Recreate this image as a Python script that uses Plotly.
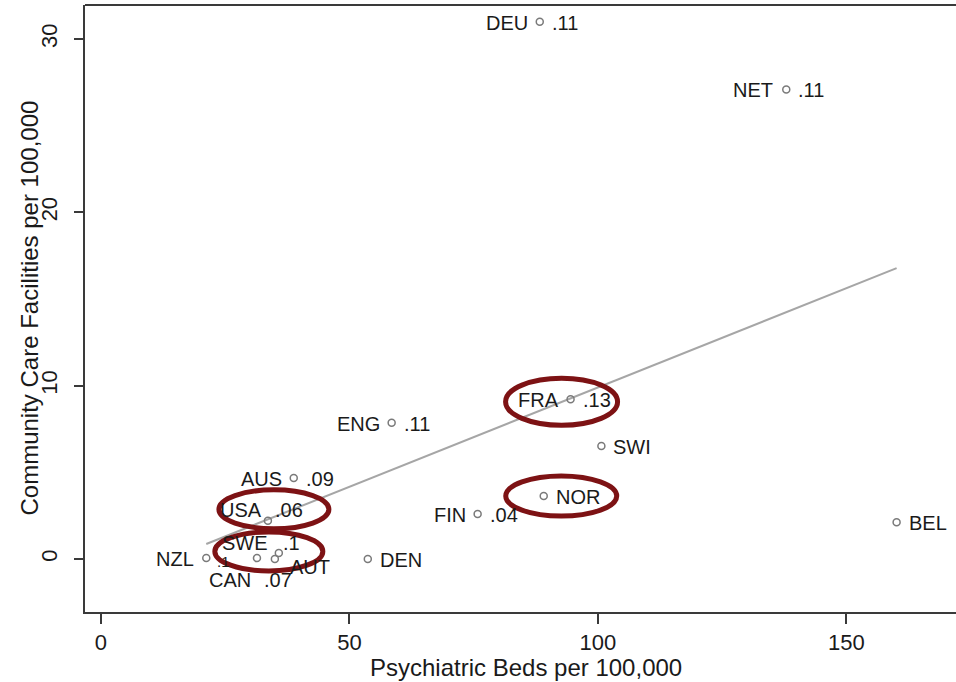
import numpy as np
import plotly.graph_objects as go

# Country codes, psychiatric beds and community care facilities (per 100,000)
countries = ["NZL", "CAN", "AUT", "SWE", "USA", "AUS", "DEN", "ENG",
             "FIN", "NOR", "FRA", "SWI", "DEU", "NET", "BEL"]
beds = [21.2, 31.4, 35.0, 35.8, 33.6, 38.8, 53.7, 58.5,
        75.8, 89.1, 94.5, 100.7, 88.3, 137.9, 160.1]
facilities = [0.05, 0.05, 0.0, 0.35, 2.2, 4.67, 0.0, 7.86,
              2.6, 3.63, 9.22, 6.52, 31.0, 27.1, 2.12]
value_labels = [".1", ".07", "", ".1", ".06", ".09", "", ".11",
                ".04", "", ".13", "", ".11", ".11", ""]
highlighted = ["FRA", "NOR", "USA", "SWE"]

x_ticks = [0, 50, 100, 150]
y_ticks = [0, 10, 20, 30]

FONT = "Liberation Sans, Arial, Helvetica, sans-serif"
TEXT = "#1a1a1a"
AXIS = "#3a3a3a"
LABEL_SIZE = 20

# label placement: (xshift, yshift) in pixels for name (left) and value (right)
default_name = (-11, -1)
default_value = (11, -1)
name_pos = {
    "CAN": (-5, -22), "SWE": (-10, 10), "USA": (-5, 11),
    "AUT": (14, -8), "NZL": (-11, -1), "NET": (-12, -1),
}
value_pos = {
    "CAN": (6, -22), "SWE": (3, 10), "USA": (6, 11), "NZL": (10, -3),
}
# smaller type where labels are packed tightly
value_size = {"NZL": 15}
# names written to the right of the marker
name_right = {"AUT", "DEN", "BEL", "SWI", "NOR"}
# ellipse boxes around highlighted markers, pixel offsets (x0, x1, y0, y1)
ellipse_box = {
    "FRA": (-65, 47, -26, 21),
    "NOR": (-38, 73, -20, 20),
    "USA": (-49, 61, -8, 31),
    "SWE": (-64, 44, -18, 21),
}

fig = go.Figure()

# least-squares fit line across the observed range
slope, intercept = np.polyfit(beds, facilities, 1)
fit_x = np.array([min(beds), max(beds)])
fig.add_trace(go.Scatter(
    x=fit_x, y=intercept + slope * fit_x, mode="lines",
    line=dict(color="#a6a6a6", width=2), hoverinfo="skip", showlegend=False,
))

fig.add_trace(go.Scatter(
    x=beds, y=facilities, mode="markers", text=countries,
    marker=dict(symbol="circle-open", size=7, color="#7a7a7a",
                line=dict(width=1.5, color="#7a7a7a")),
    showlegend=False,
))

annotations = []
for c, xv, yv, val in zip(countries, beds, facilities, value_labels):
    if c in name_right:
        dx, dy = name_pos.get(c, (11, -1))
        anchor = "left"
    else:
        dx, dy = name_pos.get(c, default_name)
        anchor = "right"
    annotations.append(dict(
        x=xv, y=yv, xref="x", yref="y", text=c, showarrow=False,
        xanchor=anchor, yanchor="middle", xshift=dx, yshift=dy, borderpad=0,
        font=dict(family=FONT, size=LABEL_SIZE, color=TEXT),
    ))
    if val:
        dx, dy = value_pos.get(c, default_value)
        annotations.append(dict(
            x=xv, y=yv, xref="x", yref="y", text=val, showarrow=False,
            xanchor="left", yanchor="middle", xshift=dx, yshift=dy, borderpad=0,
            font=dict(family=FONT, size=value_size.get(c, LABEL_SIZE), color=TEXT),
        ))

# axis titles
annotations.append(dict(
    x=0.506, y=0, xref="paper", yref="paper", text="Psychiatric Beds per 100,000",
    showarrow=False, xanchor="center", yanchor="middle", yshift=-55,
    font=dict(family=FONT, size=24, color=TEXT),
))
annotations.append(dict(
    x=0, y=0.5, xref="paper", yref="paper",
    text="Community Care Facilities per 100,000", textangle=-90,
    showarrow=False, xanchor="center", yanchor="middle", xshift=-56,
    font=dict(family=FONT, size=24, color=TEXT),
))

shapes = []
for c in highlighted:
    i = countries.index(c)
    x0, x1, y0, y1 = ellipse_box[c]
    shapes.append(dict(
        type="circle", xref="x", yref="y",
        xsizemode="pixel", ysizemode="pixel",
        xanchor=beds[i], yanchor=facilities[i],
        x0=x0, x1=x1, y0=y0, y1=y1,
        line=dict(color="#7d1214", width=5), layer="above",
    ))
# top frame line
shapes.append(dict(type="line", xref="paper", yref="paper", x0=0, x1=1, y0=1, y1=1,
                   line=dict(color=AXIS, width=2)))

fig.update_layout(
    width=956, height=682,
    margin=dict(l=85, r=0, t=5, b=70),
    paper_bgcolor="white", plot_bgcolor="white",
    annotations=annotations, shapes=shapes,
    font=dict(family=FONT, color=TEXT),
)
fig.update_xaxes(
    range=[-3.2, 172.05], tickvals=x_ticks, showgrid=False, zeroline=False,
    showline=True, linecolor=AXIS, linewidth=2,
    ticks="outside", ticklen=10, tickwidth=1.5, tickcolor=AXIS,
    tickfont=dict(family=FONT, size=22, color=TEXT), ticklabelstandoff=0,
)
fig.update_yaxes(
    range=[-3.06, 31.97], tickvals=y_ticks, showgrid=False, zeroline=False,
    showline=True, linecolor=AXIS, linewidth=2,
    ticks="outside", ticklen=9, tickwidth=1.5, tickcolor=AXIS, tickangle=-90,
    tickfont=dict(family=FONT, size=22, color=TEXT), ticklabelstandoff=8,
)

fig.write_html("out.html")
